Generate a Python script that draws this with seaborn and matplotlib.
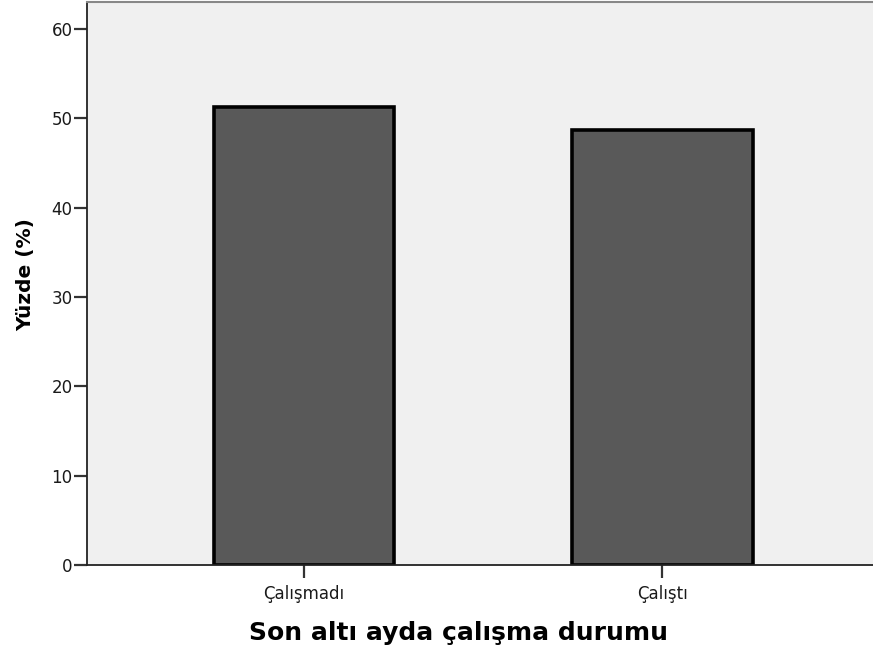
import numpy as np
import pandas as pd
import matplotlib
matplotlib.use('Agg')
import matplotlib.pyplot as plt
import seaborn as sns

# Data
categories = ['Çalışmadı', 'Çalıştı']
percentages = [51.3, 48.7]

data = pd.DataFrame({'Durum': categories, 'Yuzde': percentages})

sns.set_theme(style='white')
plt.rcParams['font.family'] = ['DejaVu Sans']

fig = plt.figure(figsize=(8.73, 6.54), dpi=100)
ax = fig.add_axes([0.0997, 0.1364, 0.9003, 0.8613])
ax.set_facecolor('#f0f0f0')

sns.barplot(x='Durum', y='Yuzde', data=data, color='#595959', saturation=1,
            width=0.505, edgecolor='black', linewidth=2.6, ax=ax)

ax.set_xlim(-0.606, 1.589)
ax.set_ylim(0, 63.1)
ax.set_yticks([0, 10, 20, 30, 40, 50, 60])

ax.set_xlabel('Son altı ayda çalışma durumu', fontsize=18, fontweight='bold', color='black')
ax.set_ylabel('Yüzde (%)', fontsize=14.5, fontweight='bold', color='black')
ax.xaxis.set_label_coords(0.4727, -0.1)
ax.yaxis.set_label_coords(-0.066, 0.515)

ax.tick_params(axis='both', which='major', direction='out', length=9.5, width=1.6,
               color='#333333', labelsize=12, labelcolor='#1a1a1a')
ax.tick_params(axis='y', left=True, pad=1)
ax.tick_params(axis='x', bottom=True, pad=5)

for side in ['left', 'bottom']:
    ax.spines[side].set_color('#222222')
    ax.spines[side].set_linewidth(1.3)
ax.spines['top'].set_color('#888888')
ax.spines['top'].set_linewidth(1.5)
ax.spines['right'].set_visible(False)

fig.savefig('out.png', dpi=100)
